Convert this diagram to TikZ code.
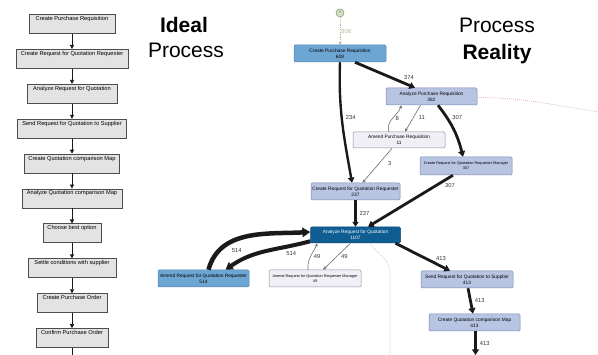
\documentclass[tikz,border=0pt]{standalone}
\usepackage{amssymb}
\usepackage{fontspec}
\setmainfont{Liberation Sans}
\usepackage{tikz}
\usepackage{xcolor}
\usetikzlibrary{arrows.meta,positioning,calc}
\definecolor{ink}{HTML}{1A1A1A}
\definecolor{idealfill}{HTML}{E3E3E3}
\definecolor{idealline}{HTML}{4D4D4D}
\definecolor{darkact}{HTML}{0F5E93}
\definecolor{darkline}{HTML}{0B4A75}
\definecolor{midact}{HTML}{6EA6D3}
\definecolor{midline}{HTML}{4C82B3}
\definecolor{lightact}{HTML}{B7C4E2}
\definecolor{lightline}{HTML}{7688B3}
\definecolor{paleact}{HTML}{F1EFF6}
\definecolor{paleline}{HTML}{8D8B9A}
\definecolor{thinedge}{HTML}{6E6E6E}
\definecolor{dotline}{HTML}{D7A9A2}
\definecolor{startfill}{HTML}{D5DFC6}
\definecolor{startline}{HTML}{8DA071}
\definecolor{startdash}{HTML}{A9B993}
\definecolor{cnttext}{HTML}{333333}

\begin{document}
\begin{tikzpicture}[x=1pt,y=1pt,
  ideal/.style={draw=idealline,line width=0.8pt,fill=idealfill,
    font=\fontsize{5.7}{6}\selectfont,text height=4pt,text depth=11pt,
    inner xsep=2pt,inner ysep=2pt},
  idealflow/.style={draw=ink,line width=0.8pt,-{Triangle[length=4pt,width=4pt]}},
  act/.style={draw,rounded corners=1.2pt,align=center,minimum height=17pt,
    minimum width=92pt,inner sep=1pt,line width=0.5pt,
    font=\fontsize{4.8}{5.8}\selectfont},
  actdark/.style={act,fill=darkact,draw=darkline,text=white},
  actmid/.style={act,fill=midact,draw=midline},
  actlight/.style={act,fill=lightact,draw=lightline},
  actpale/.style={act,fill=paleact,draw=paleline},
  small/.style={font=\fontsize{3.8}{5}\selectfont},
  flow/.style={draw=ink,line width=#1,
    -{Triangle[length=2pt 1.3,width=3pt 1.4]}},
  thin/.style={draw=thinedge,line width=0.6pt,
    -{Stealth[length=3.5pt,width=3pt]}},
  cnt/.style={font=\fontsize{5.8}{6}\selectfont,text=cnttext,inner sep=1pt},
  loose/.style={draw=dotline,line width=0.7pt,dash pattern=on 0.7pt off 1.3pt},
  title/.style={font=\fontsize{21}{24}\selectfont,anchor=base,inner sep=0pt}]
\useasboundingbox (0,0) rectangle (598,354);

% ideal process
\foreach \t/\w [count=\i] in {Create Purchase Requisition/86,
    Create Request for Quotation Requester/112,Analyze Request for Quotation/90,
    Send Request for Quotation to Supplier/109,Create Quotation comparison Map/95,
    Analyze Quotation comparison Map/100,Choose best option/58,
    Settle conditions with supplier/88,Create Purchase Order/70,
    Confirm Purchase Order/72}
  \node[ideal,minimum width=\w pt] (i\i) at (72,{330-34.9*(\i-1)}) {\t};
\foreach \i [evaluate=\i as \j using int(\i+1)] in {1,...,9}
  \draw[idealflow] (i\i) -- (i\j);
\coordinate (iend) at (72,-1);
\draw[draw=ink,line width=0.8pt] (i10) -- (iend);

\node[title] (idealA) at (184,321) {\bfseries Ideal};
\node[title] (idealB) at (186,296) {Process};
\node[title] (realA) at (497,321) {Process};
\node[title] (realB) at (497,294) {\bfseries Reality};

% process reality
\node[circle,draw=startline,fill=startfill,line width=0.6pt,minimum size=8pt,
      inner sep=0pt,text=startline] (start) at (340,341)
  {\scalebox{0.35}{$\blacktriangledown$}};
\node[actmid] (cpr) at (340,300.5) {Create Purchase Requisition\\608};
\node[actlight,minimum width=91pt] (apr) at (431.5,257.5)
  {Analyze Purchase Requisition\\382};
\node[actpale,minimum height=16pt] (ampr) at (399,214)
  {Amend Purchase Requisition\\11};
\node[actlight,small,minimum height=18pt] (crqrm) at (466,188)
  {Create Request for Quotation Requester Manager\\307};
\node[actlight,minimum width=89pt] (crqr) at (355.5,162.5)
  {Create Request for Quotation Requester\\237};
\node[actdark,minimum width=90pt,minimum height=16pt] (arq) at (355.5,119)
  {Analyze Request for Quotation\\1107};
\node[actmid,minimum width=91pt] (amrqr) at (203.5,75.5)
  {Amend Request for Quotation Requester\\514};
\node[actpale,small] (amrqrm) at (315,75.5)
  {Amend Request for Quotation Requester Manager\\49};
\node[actlight] (srqs) at (467,74.5)
  {Send Request for Quotation to Supplier\\413};
\node[actlight,minimum width=91pt] (cqcm) at (474.5,31.5)
  {Create Quotation comparison Map\\413};

\coordinate (offR) at (600,242);
\coordinate (offB) at (390,-1);
\coordinate (more) at (475.5,-1);

\draw[draw=startdash,line width=0.8pt,dash pattern=on 1.2pt off 1.2pt,
      -{Stealth[length=3pt,width=3pt]}] (start) -- (cpr)
  node[cnt,pos=.5,right,text=startdash] {608};
\draw[flow=2.8pt] ([xshift=15pt]cpr.south) -- ([xshift=-16.5pt]apr.north)
  node[cnt,pos=.78,above right] {374};
\draw[flow=2.4pt] (cpr.south) to[out=-92,in=100]
  node[cnt,pos=.45,right=2pt] {234} ([xshift=-3.5pt]crqr.north);
\draw[flow=2.8pt] ([xshift=6.5pt]apr.south) to[bend left=12]
  node[cnt,pos=.25,right=3pt] {307} ([xshift=-3pt]crqrm.north);
\draw[thin] ([xshift=-10pt]ampr.north) to[out=110,in=-110]
  node[cnt,pos=.5,right=2pt] {8} ([xshift=-30pt]apr.south);
\draw[thin] ([xshift=-11pt]apr.south) -- ([xshift=6pt]ampr.north)
  node[cnt,pos=.45,right=4pt] {11};
\draw[thin] ([xshift=-7pt]ampr.south) -- ([xshift=7pt]crqr.north)
  node[cnt,pos=.45,right=8pt] {3};
\draw[flow=2.8pt] ([xshift=-13pt]crqrm.south) -- ([xshift=12.5pt]arq.north)
  node[cnt,pos=.12,below right] {307};
\draw[flow=2.2pt] (crqr.south) -- (arq.north)
  node[cnt,pos=.5,right=2pt] {237};
\draw[flow=4pt] ([yshift=2pt]arq.south west) to[out=195,in=35]
  node[cnt,pos=.2,below=3pt] {514} ([xshift=22pt]amrqr.north);
\draw[flow=4.5pt] ([xshift=5pt]amrqr.north) to[out=75,in=183]
  node[cnt,pos=.3,below right=2pt] {514} ([yshift=3pt]arq.west);
\draw[thin] ([xshift=-5pt]arq.south) -- ([xshift=8pt]amrqrm.north)
  node[cnt,pos=.5,right=3pt] {49};
\draw[thin] ([xshift=-7pt]amrqrm.north) to[out=95,in=-115]
  node[cnt,pos=.5,right=2pt] {49} ([xshift=-38pt]arq.south);
\draw[flow=2.8pt] ([xshift=40pt]arq.south) -- ([xshift=-17pt]srqs.north)
  node[cnt,pos=.7,above right] {413};
\draw[flow=2.8pt] ([xshift=1pt]srqs.south) -- ([xshift=-1.5pt]cqcm.north)
  node[cnt,pos=.5,right=2pt] {413};
\draw[flow=2.8pt] ([xshift=1pt]cqcm.south) -- (more)
  node[cnt,pos=.5,right=2pt] {413};

\draw[loose] ([yshift=-1pt]apr.east) to[out=0,in=172] (offR);
\draw[loose] ([xshift=15pt]arq.south) to[out=-60,in=90] (390,82) -- (offB);
\end{tikzpicture}
\end{document}
